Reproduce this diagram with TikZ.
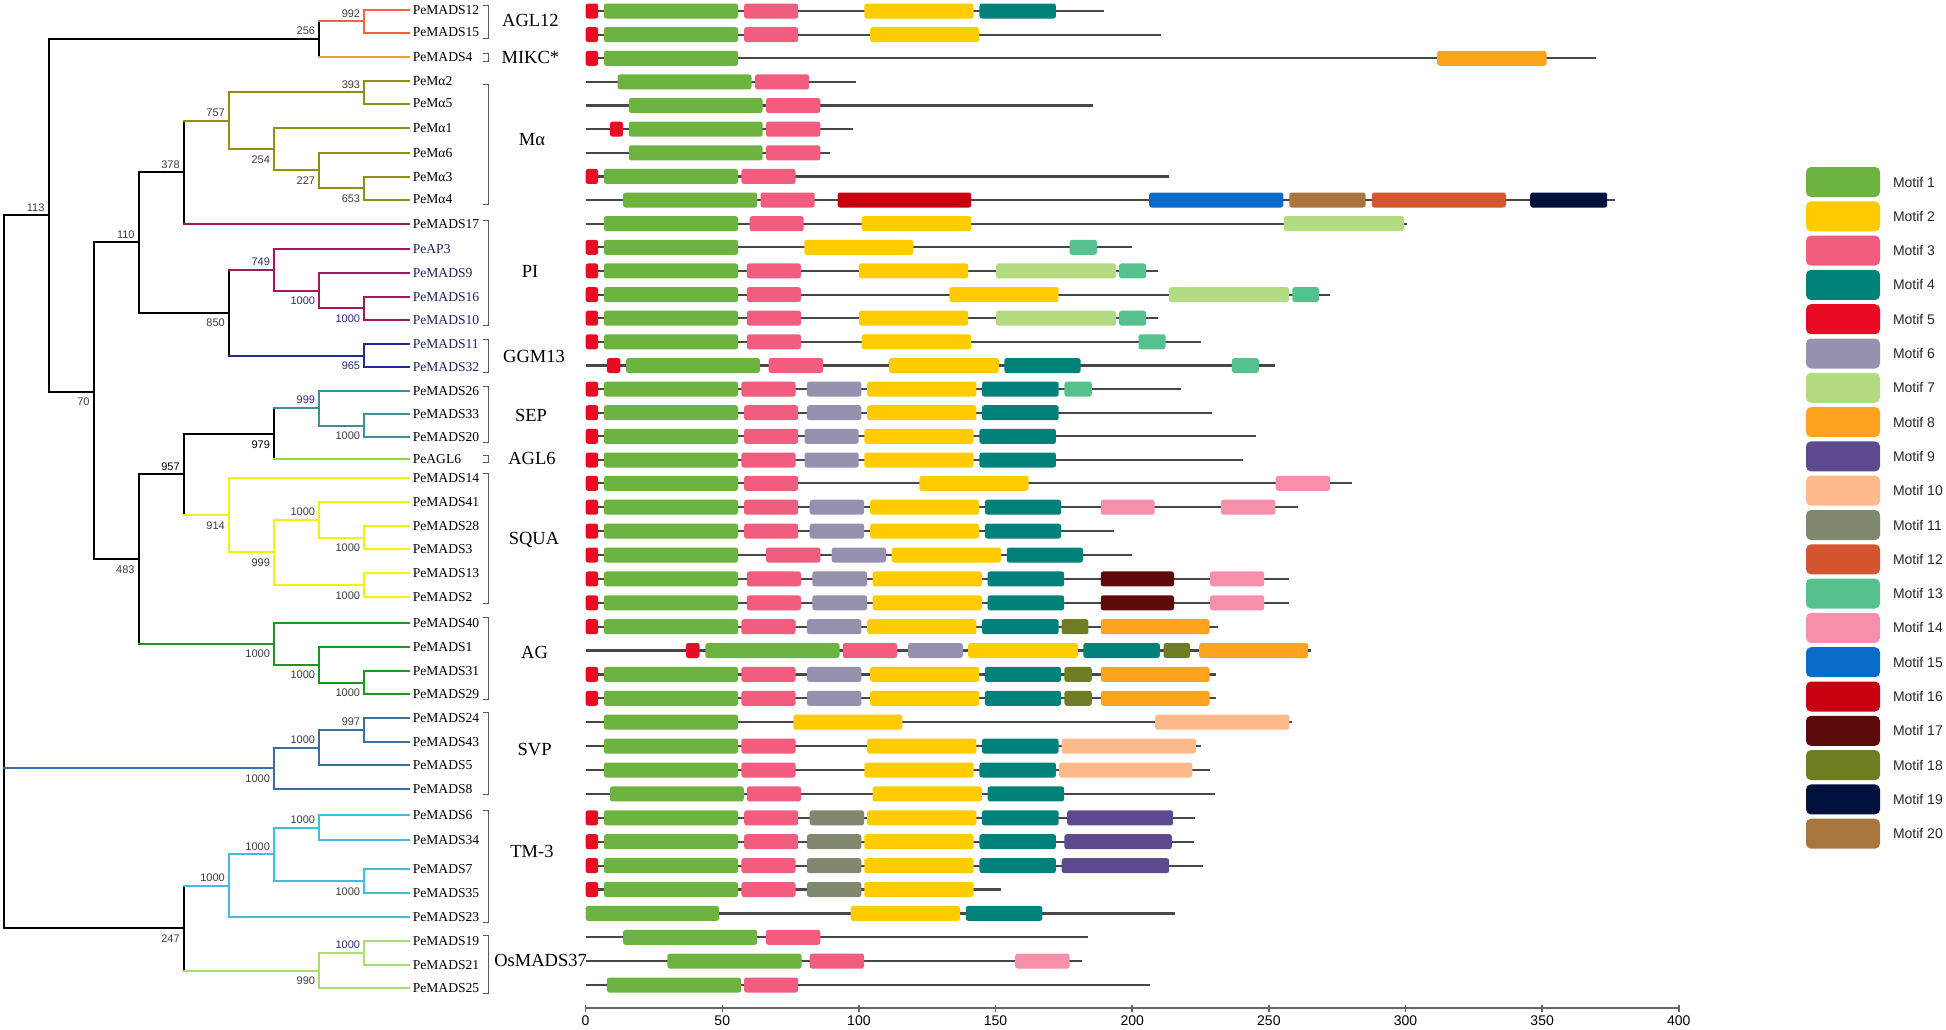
\documentclass[tikz,border=0pt]{standalone}
\usepackage{fontspec}
\setmainfont{Liberation Serif}
\setsansfont{Liberation Sans}
\usepackage{xcolor}
\usetikzlibrary{positioning}

%Motif colours
\definecolor{mot1}{HTML}{6DB33F}
\definecolor{mot2}{HTML}{FFCC00}
\definecolor{mot3}{HTML}{F25C7E}
\definecolor{mot4}{HTML}{00827A}
\definecolor{mot5}{HTML}{EB0A23}
\definecolor{mot6}{HTML}{9791B0}
\definecolor{mot7}{HTML}{B3DB82}
\definecolor{mot8}{HTML}{FFA21F}
\definecolor{mot9}{HTML}{5E4A8F}
\definecolor{mot10}{HTML}{FFBA8C}
\definecolor{mot11}{HTML}{80886F}
\definecolor{mot12}{HTML}{D4552F}
\definecolor{mot13}{HTML}{55C18F}
\definecolor{mot14}{HTML}{F58FAA}
\definecolor{mot15}{HTML}{0A6BC9}
\definecolor{mot16}{HTML}{C8000F}
\definecolor{mot17}{HTML}{5C0A0A}
\definecolor{mot18}{HTML}{6E7D22}
\definecolor{mot19}{HTML}{00103D}
\definecolor{mot20}{HTML}{A8753F}

%Clade colours
\definecolor{cagl}{HTML}{F0663A}
\definecolor{cmik}{HTML}{F79A3E}
\definecolor{cmal}{HTML}{8F8F14}
\definecolor{cpi}{HTML}{A11A5C}
\definecolor{cggm}{HTML}{1E2A96}
\definecolor{csep}{HTML}{3E8E9E}
\definecolor{cagl6}{HTML}{8CD647}
\definecolor{csqu}{HTML}{F2F20A}
\definecolor{cag}{HTML}{1E961E}
\definecolor{csvp}{HTML}{3A6FA6}
\definecolor{ctm}{HTML}{3DBFDD}
\definecolor{cosm}{HTML}{A8DD70}
\definecolor{bgray}{HTML}{3C3C3C}
\definecolor{bnavy}{HTML}{2B2B80}
\definecolor{lnavy}{HTML}{202060}

\newcommand{\motifrow}[3]{%
  \draw[seq] (0,#1) -- (#2,#1);
  \foreach \k/\ma/\mb in {#3}
    \fill[mot\k,rounded corners=2.5pt] (\ma,#1-7.5) rectangle (\mb,#1+7.5);
}

\begin{document}
\begin{tikzpicture}[x=1pt,y=-1pt,
    br/.style={line width=2pt,line cap=rect},
    leaf/.style={anchor=west,inner sep=0pt,font=\fontsize{13.6}{14}\selectfont},
    group/.style={inner sep=0pt,font=\fontsize{18.5}{20}\selectfont},
    boot/.style={anchor=east,inner sep=0pt,font=\sffamily\fontsize{11}{12}\selectfont},
    brk/.style={draw=black!65,line width=0.9pt},
    seq/.style={draw=black!72,line width=2.2pt},
    axisline/.style={draw=black!60,line width=1.5pt},
    ticklab/.style={inner sep=0pt,font=\sffamily\fontsize{14}{15}\selectfont},
    legbox/.style={rounded corners=5pt,minimum width=74pt,minimum height=30pt,inner sep=0pt},
    legtext/.style={inner sep=0pt,font=\sffamily\fontsize{14}{16}\selectfont,text=black!85}]

\useasboundingbox (0,0) rectangle (1946,1029);

%Leaves
\foreach \n/\y/\lt/\lc in {m12/10/PeMADS12/black, m15/32.5/PeMADS15/black, m4/56.7/PeMADS4/black,
    a2/81/PeMα2/black, a5/103.5/PeMα5/black, a1/128.3/PeMα1/black, a6/152.7/PeMα6/black,
    a3/176.7/PeMα3/black, a4/199.5/PeMα4/black, m17/224/PeMADS17/black,
    ap3/248.6/PeAP3/lnavy, m9/272.7/PeMADS9/lnavy, m16/296.7/PeMADS16/lnavy, m10/320/PeMADS10/lnavy,
    m11/344.3/PeMADS11/lnavy, m32/366.7/PeMADS32/lnavy,
    m26/390.7/PeMADS26/black, m33/414/PeMADS33/black, m20/437.3/PeMADS20/black, agl6/459.3/PeAGL6/black,
    m14/477.6/PeMADS14/black, m41/502/PeMADS41/black, m28/525.7/PeMADS28/black, m3/549.3/PeMADS3/black,
    m13/573.3/PeMADS13/black, m2/597/PeMADS2/black,
    m40/622.7/PeMADS40/black, m1/646.7/PeMADS1/black, m31/670.7/PeMADS31/black, m29/694.3/PeMADS29/black,
    m24/718.3/PeMADS24/black, m43/741.7/PeMADS43/black, m5/765/PeMADS5/black, m8/789.3/PeMADS8/black,
    m6/815/PeMADS6/black, m34/840/PeMADS34/black, m7/869/PeMADS7/black, m35/893.3/PeMADS35/black,
    m23/916.7/PeMADS23/black, m19/941/PeMADS19/black, m21/965/PeMADS21/black, m25/988.3/PeMADS25/black}
  {\coordinate (\n) at (409.4,\y);
   \node[leaf,text=\lc] (t\n) [xshift=3.2pt] at (\n) {\lt};}

%Inner nodes
\coordinate (root) at (3.5,571.7);
\coordinate (n113) at (48.6,215.3);
\coordinate (n256) at (319.2,39);
\coordinate (n992) at (364.3,21.25);
\coordinate (n70) at (93.7,391.7);
\coordinate (n110) at (138.8,242.45);
\coordinate (n378) at (183.9,172.4);
\coordinate (n757) at (229,120.8);
\coordinate (n393) at (364.3,92.25);
\coordinate (n254) at (274.1,149.35);
\coordinate (n227) at (319.2,170.4);
\coordinate (n653) at (364.3,188.1);
\coordinate (n850) at (229,312.5);
\coordinate (n749) at (274.1,269.55);
\coordinate (npi2) at (319.2,290.5);
\coordinate (npi3) at (364.3,308.35);
\coordinate (n965) at (364.3,355.5);
\coordinate (n483) at (138.8,559);
\coordinate (n957) at (183.9,474.4);
\coordinate (n979) at (274.1,433.75);
\coordinate (nsep1) at (319.2,408.2);
\coordinate (nsep2) at (364.3,425.65);
\coordinate (n914) at (229,515);
\coordinate (nsq1) at (274.1,552.45);
\coordinate (nsq2) at (319.2,519.75);
\coordinate (nsq3) at (364.3,537.5);
\coordinate (nsq4) at (364.3,585.15);
\coordinate (nag1) at (274.1,643.65);
\coordinate (nag2) at (319.2,664.6);
\coordinate (nag3) at (364.3,682.5);
\coordinate (nsvp1) at (274.1,768.4);
\coordinate (nsvp2) at (319.2,747.5);
\coordinate (n997) at (364.3,730);
\coordinate (n247) at (183.9,928.1);
\coordinate (ntm1) at (229,885.5);
\coordinate (ntm2) at (274.1,854.3);
\coordinate (ntm3) at (319.2,827.5);
\coordinate (ntm4) at (364.3,881.15);
\coordinate (n990) at (319.2,970.65);
\coordinate (nos2) at (364.3,953);

%Vertical bars
\foreach \p/\ca/\cb/\k in {root/n113/n247/black, n113/n256/n70/black, n256/n992/m4/black, n992/m12/m15/cagl,
    n70/n110/n483/black, n110/n378/n850/black, n378/n757/m17/black,
    n757/n393/n254/cmal, n393/a2/a5/cmal, n254/a1/n227/cmal, n227/a6/n653/cmal, n653/a3/a4/cmal,
    n850/n749/n965/black, n749/ap3/npi2/cpi, npi2/m9/npi3/cpi, npi3/m16/m10/cpi, n965/m11/m32/cggm,
    n483/n957/nag1/black, n957/n979/n914/black, n979/nsep1/agl6/black,
    nsep1/m26/nsep2/csep, nsep2/m33/m20/csep,
    n914/m14/nsq1/csqu, nsq1/nsq2/nsq4/csqu, nsq2/m41/nsq3/csqu, nsq3/m28/m3/csqu, nsq4/m13/m2/csqu,
    nag1/m40/nag2/cag, nag2/m1/nag3/cag, nag3/m31/m29/cag,
    nsvp1/nsvp2/m8/csvp, nsvp2/n997/m5/csvp, n997/m24/m43/csvp,
    n247/ntm1/n990/black, ntm1/ntm2/m23/ctm, ntm2/ntm3/ntm4/ctm, ntm3/m6/m34/ctm, ntm4/m7/m35/ctm,
    n990/nos2/m25/cosm, nos2/m19/m21/cosm}
  \draw[br,\k] (\p |- \ca) -- (\p |- \cb);

%Branches
\foreach \p/\c/\k in {root/n113/black, root/nsvp1/csvp, root/n247/black,
    n113/n256/black, n113/n70/black, n256/n992/cagl, n256/m4/cmik, n992/m12/cagl, n992/m15/cagl,
    n70/n110/black, n70/n483/black, n110/n378/black, n110/n850/black,
    n378/n757/cmal, n378/m17/cpi,
    n757/n393/cmal, n757/n254/cmal, n393/a2/cmal, n393/a5/cmal, n254/a1/cmal, n254/n227/cmal,
    n227/a6/cmal, n227/n653/cmal, n653/a3/cmal, n653/a4/cmal,
    n850/n749/cpi, n850/n965/cggm, n749/ap3/cpi, n749/npi2/cpi, npi2/m9/cpi, npi2/npi3/cpi,
    npi3/m16/cpi, npi3/m10/cpi, n965/m11/cggm, n965/m32/cggm,
    n483/n957/black, n483/nag1/cag, n957/n979/black, n957/n914/csqu,
    n979/nsep1/csep, n979/agl6/cagl6, nsep1/m26/csep, nsep1/nsep2/csep, nsep2/m33/csep, nsep2/m20/csep,
    n914/m14/csqu, n914/nsq1/csqu, nsq1/nsq2/csqu, nsq1/nsq4/csqu, nsq2/m41/csqu, nsq2/nsq3/csqu,
    nsq3/m28/csqu, nsq3/m3/csqu, nsq4/m13/csqu, nsq4/m2/csqu,
    nag1/m40/cag, nag1/nag2/cag, nag2/m1/cag, nag2/nag3/cag, nag3/m31/cag, nag3/m29/cag,
    nsvp1/nsvp2/csvp, nsvp1/m8/csvp, nsvp2/n997/csvp, nsvp2/m5/csvp, n997/m24/csvp, n997/m43/csvp,
    n247/ntm1/ctm, n247/n990/cosm, ntm1/ntm2/ctm, ntm1/m23/ctm, ntm2/ntm3/ctm, ntm2/ntm4/ctm,
    ntm3/m6/ctm, ntm3/m34/ctm, ntm4/m7/ctm, ntm4/m35/ctm,
    n990/nos2/cosm, n990/m25/cosm, nos2/m19/cosm, nos2/m21/cosm}
  \draw[br,\k] (\p |- \c) -- (\c);

%Bootstrap values
\foreach \n/\v/\s/\bc in {n992/992/-8/bgray, n256/256/-8/bgray, n393/393/-8/bgray, n757/757/-8/bgray,
    n254/254/10.5/bgray, n227/227/10.5/bgray, n653/653/10.5/bgray, n378/378/-8/bgray, n113/113/-8/bgray,
    n110/110/-8/bgray, n749/749/-8/bnavy, npi2/1000/10.5/bnavy, npi3/1000/10.5/bnavy, n850/850/10.5/bgray,
    n965/965/10.5/bnavy, n70/70/10.5/bgray, nsep1/999/-8/bnavy, nsep2/1000/10.5/bgray, n979/979/10.5/black,
    n957/957/-8/black, n914/914/10.5/bgray, nsq1/999/10.5/bgray, nsq2/1000/-8/bgray, nsq3/1000/10.5/bgray,
    nsq4/1000/10.5/bgray, n483/483/10.5/bgray, nag1/1000/10.5/bgray, nag2/1000/10.5/bgray,
    nag3/1000/10.5/bgray, n997/997/-8/bgray, nsvp2/1000/-8/bgray, nsvp1/1000/10.5/bgray,
    ntm3/1000/-8/bgray, ntm2/1000/-8/bgray, ntm1/1000/-8/bgray, ntm4/1000/10.5/bgray,
    nos2/1000/-8/bnavy, n990/990/10.5/bgray, n247/247/10.5/bgray}
  \node[boot,text=\bc] (b\n) [shift={(-4,\s)}] at (\n) {\v};

%Brackets and subfamily names
\foreach \ya/\yb in {5/38, 53.5/61, 84/204, 220/325, 339/372, 386/442, 455/462.5,
    473/603, 617/699, 712/794, 810/922, 935/993}
  \draw[brk] (483,\ya) -| (488,\yb) -- (483,\yb);

\node[group] (gAGL12) at (530.4,20) {AGL12};
\node[group] (gMIKC) at (530.4,57.7) {MIKC*};
\node[group] (gMa) at (532,140) {Mα};
\node[group] (gPI) at (530,271.7) {PI};
\node[group] (gGGM) at (534,356) {GGM13};
\node[group] (gSEP) at (531,415) {SEP};
\node[group] (gAGL6) at (532,458.3) {AGL6};
\node[group] (gSQUA) at (534,540) {SQUA};
\node[group] (gAG) at (534.6,652.7) {AG};
\node[group] (gSVP) at (534.6,750) {SVP};
\node[group] (gTM) at (532,851.7) {TM-3};
\node[group] (gOs) at (540.6,960.7) {OsMADS37};

%Motif diagrams
\begin{scope}[shift={(585.6,0)},x=2.733pt]
\motifrow{11}{189.6}{5/0/4.6, 1/6.7/55.8, 3/58/77.8, 2/102/142, 4/144.1/172.1}
\motifrow{34.6}{210.5}{5/0/4.6, 1/6.7/55.8, 3/58/77.8, 2/104.1/144}
\motifrow{58.3}{369.6}{5/0/4.6, 1/6.7/55.8, 8/311.6/351.6}
\motifrow{81.9}{99.1}{1/11.7/60.7, 3/62/81.8}
\motifrow{105.5}{185.6}{1/15.8/64.8, 3/66/85.9}
\motifrow{129.2}{98}{5/8.9/13.7, 1/15.8/64.8, 3/66/85.9}
\motifrow{152.8}{89.3}{1/15.8/64.8, 3/66/85.9}
\motifrow{176.4}{213.6}{5/0/4.6, 1/6.7/55.8, 3/57/76.8}
\motifrow{200}{376.7}{1/13.7/62.8, 3/64/83.8, 16/92.2/141.1, 15/206.2/255.3, 20/257.5/285.4, 12/287.7/336.7, 19/345.6/373.8}
\motifrow{223.7}{300.5}{1/6.7/55.8, 3/60/79.8, 2/101/141.1, 7/255.5/299.5}
\motifrow{247.3}{200.1}{5/0/4.6, 1/6.7/55.8, 2/80/119.9, 13/177.1/187.1}
\motifrow{270.9}{209.6}{5/0/4.6, 1/6.7/55.8, 3/59/78.8, 2/100/140, 7/150.2/194.1, 13/195.2/205.1}
\motifrow{294.6}{272.4}{5/0/4.6, 1/6.7/55.8, 3/59/78.8, 2/133.1/173.1, 7/213.4/257.4, 13/258.6/268.3}
\motifrow{318.2}{209.6}{5/0/4.6, 1/6.7/55.8, 3/59/78.8, 2/100/140, 7/150.2/194.1, 13/195.2/205.1}
\motifrow{341.8}{225.1}{5/0/4.6, 1/6.7/55.8, 3/59/78.8, 2/101/141.1, 13/202.3/212.2}
\motifrow{365.5}{252.4}{5/7.8/12.7, 1/14.8/63.8, 3/67/86.9, 2/111/151.2, 4/153.2/181.1, 13/236.5/246.3}
\motifrow{389.1}{217.7}{5/0/4.6, 1/6.7/55.8, 3/57/76.8, 6/81/100.9, 2/103/143, 4/145/173.1, 13/175.2/185.2}
\motifrow{412.7}{229.2}{5/0/4.6, 1/6.7/55.8, 3/58/77.8, 6/81/100.9, 2/103/143, 4/145/173.1}
\motifrow{436.3}{245.3}{5/0/4.6, 1/6.7/55.8, 3/58/77.8, 6/80.1/99.9, 2/102/142, 4/144.1/172.1}
\motifrow{460}{240.4}{5/0/4.6, 1/6.7/55.8, 3/57/76.8, 6/80.1/99.9, 2/102/142, 4/144.1/172.1}
\motifrow{483.3}{280.5}{5/0/4.6, 1/6.7/55.8, 3/58/77.8, 2/122.1/162.1, 14/252.5/272.4}
\motifrow{507.2}{260.5}{5/0/4.6, 1/6.7/55.8, 3/58/77.8, 6/82/101.9, 2/104.1/144, 4/146.1/174, 14/188.5/208.2, 14/232.5/252.4}
\motifrow{531.1}{193.5}{5/0/4.6, 1/6.7/55.8, 3/58/77.8, 6/82/101.9, 2/104.1/144, 4/146.1/174}
\motifrow{555}{200.1}{5/0/4.6, 1/6.7/55.8, 3/66/85.9, 6/90/109.9, 2/112/152, 4/154.1/182}
\motifrow{578.9}{257.5}{5/0/4.6, 1/6.7/55.8, 3/59/78.8, 6/83/103, 2/105/145, 4/147.1/175.1, 17/188.5/215.3, 14/228.4/248.3}
\motifrow{602.8}{257.5}{5/0/4.6, 1/6.7/55.8, 3/59/78.8, 6/83/103, 2/105/145, 4/147.1/175.1, 17/188.5/215.3, 14/228.4/248.3}
\motifrow{626.7}{231.5}{5/0/4.6, 1/6.7/55.8, 3/57/76.8, 6/81/100.9, 2/103/143, 4/145/173.1, 18/174.2/184, 8/188.5/228.3}
\motifrow{650.5}{265.4}{5/36.7/41.7, 1/43.8/92.9, 3/94.1/114, 6/118/138, 2/140/180.1, 4/182.1/210.1, 18/211.5/221.2, 8/224.5/264.4}
\motifrow{674.4}{230.6}{5/0/4.6, 1/6.7/55.8, 3/57/76.8, 6/81/100.9, 2/104.1/144, 4/146.1/174, 18/175.2/185.2, 8/188.5/228.3}
\motifrow{698.3}{230.6}{5/0/4.6, 1/6.7/55.8, 3/57/76.8, 6/81/100.9, 2/104.1/144, 4/146.1/174, 18/175.2/185.2, 8/188.5/228.3}
\motifrow{722.2}{258.6}{1/6.7/55.8, 2/76/115.9, 10/208.4/257.5}
\motifrow{746.1}{225.2}{1/6.7/55.8, 3/57/76.8, 2/103/143, 4/145/173.1, 10/174.2/223.3}
\motifrow{770}{228.4}{1/6.7/55.8, 3/57/76.8, 2/102/142, 4/144.1/172.1, 10/173.2/222}
\motifrow{793.9}{230.3}{1/8.9/57.9, 3/59/78.8, 2/105/145, 4/147.1/175.1}
\motifrow{817.8}{223}{5/0/4.6, 1/6.7/55.8, 3/58/77.8, 11/82/101.9, 2/103/143, 4/145/173.1, 9/176.2/215}
\motifrow{841.7}{222.5}{5/0/4.6, 1/6.7/55.8, 3/58/77.8, 11/81/100.9, 2/102/142, 4/144.1/172.1, 9/175.2/214.5}
\motifrow{865.6}{226}{5/0/4.6, 1/6.7/55.8, 3/57/76.8, 11/81/100.9, 2/102/142, 4/144.1/172.1, 9/174.2/213.5}
\motifrow{889.5}{152}{5/0/4.6, 1/6.7/55.8, 3/57/76.8, 11/81/100.9, 2/102/142}
\motifrow{913.4}{215.7}{1/0/48.8, 2/97/137, 4/139.1/167.1}
\motifrow{937.3}{184}{1/13.7/62.8, 3/66/85.9}
\motifrow{961.1}{181.5}{1/29.9/79, 3/82/101.9, 14/157.2/177.1}
\motifrow{985}{206.5}{1/7.8/56.9, 3/58/77.8}

%Scale
\draw[axisline] (0,1008) -- (400,1008);
\foreach \v in {0,50,...,400}
  {\draw[axisline] (\v,1004.5) -- (\v,1011.5);
   \node[ticklab] (tk\v) at (\v,1020.5) {\v};}
\end{scope}

%Legend
\foreach \i in {1,...,20}
  {\node[legbox,fill=mot\i] (leg\i) at (1843,{182+(\i-1)*34.3}) {};
   \node[legtext,right=12.6pt of leg\i] (lt\i) {Motif \i};}

\end{tikzpicture}
\end{document}
